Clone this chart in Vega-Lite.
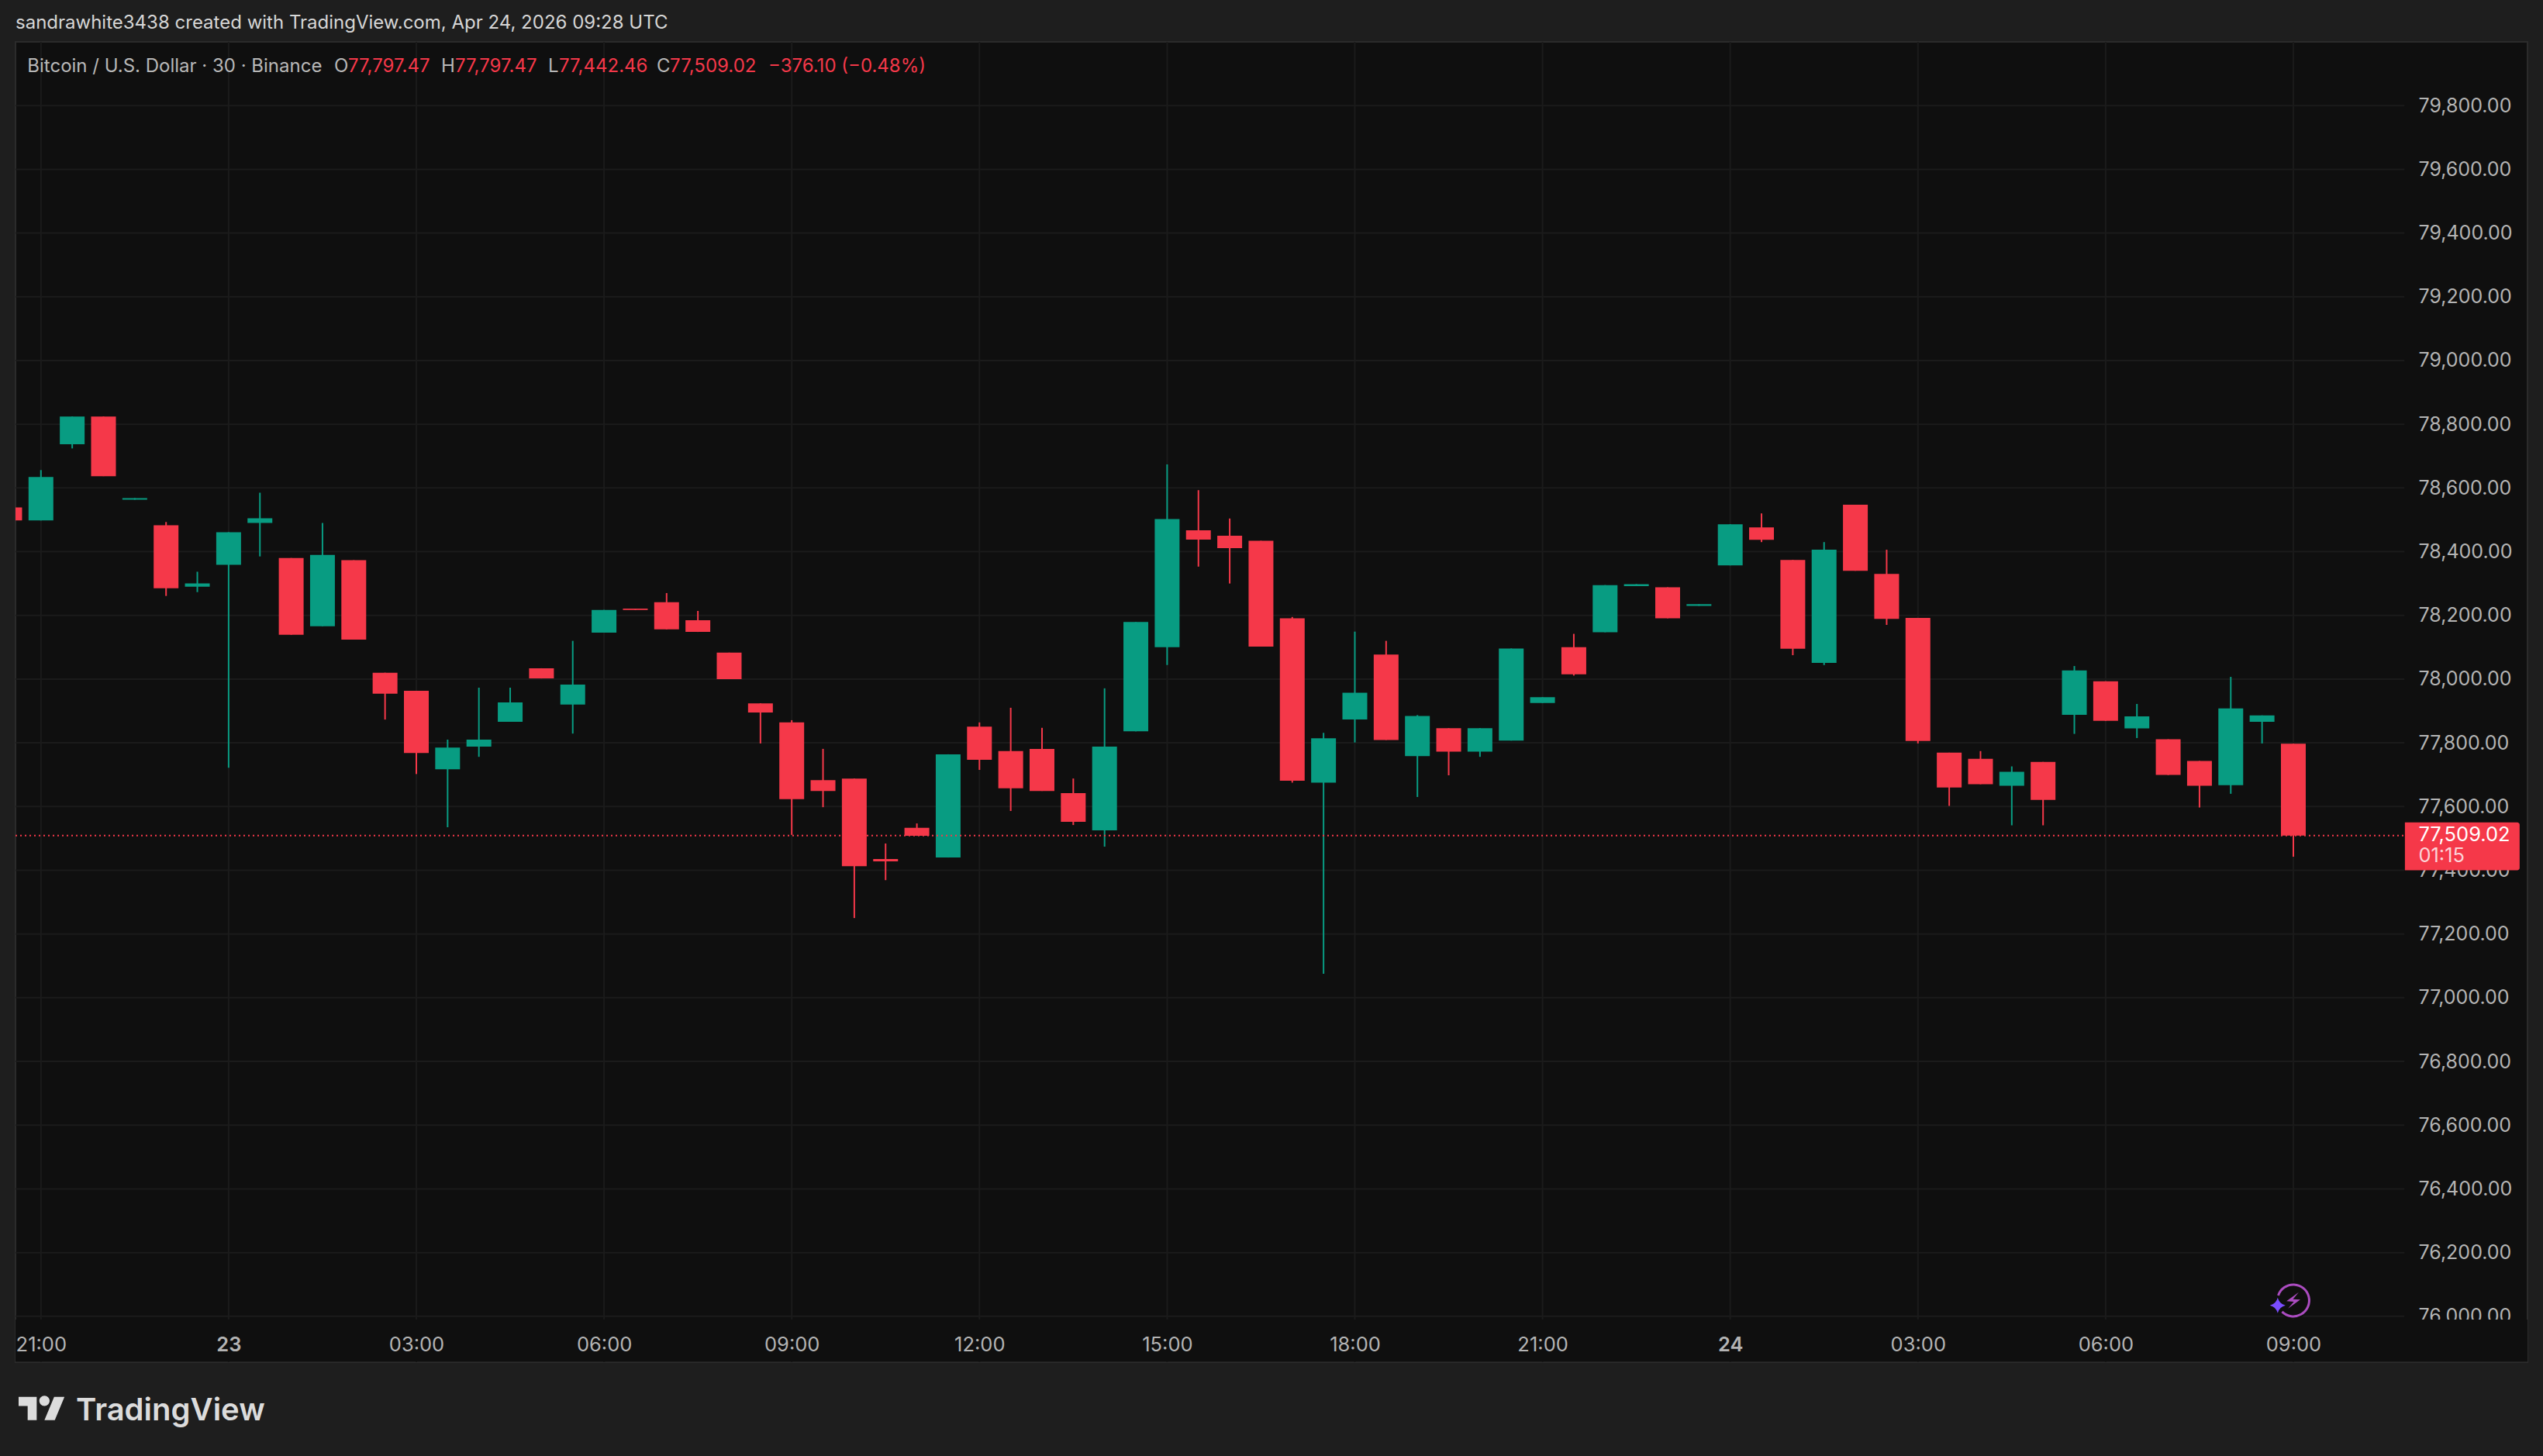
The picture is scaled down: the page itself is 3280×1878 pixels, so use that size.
{
  "$schema": "https://vega.github.io/schema/vega-lite/v6.json",
  "width": 3240,
  "height": 1703,
  "autosize": {"type": "none"},
  "padding": {"left": 20, "top": 54, "right": 20, "bottom": 121},
  "background": "#1e1e1e",
  "view": {"fill": "#0f0f0f", "stroke": "#2b2b2b", "strokeWidth": 2},
  "title": {
    "text": "sandrawhite3438 created with TradingView.com, Apr 24, 2026 09:28 UTC",
    "anchor": "start",
    "frame": "group",
    "offset": 14,
    "dy": 22,
    "baseline": "alphabetic",
    "font": "Inter",
    "fontSize": 24,
    "fontWeight": 400,
    "color": "#d6d6d6"
  },
  "datasets": {
    "candles": [
      {"t": "2026-04-22T20:30:00Z", "open": 78539, "high": 78539, "low": 78498, "close": 78498},
      {"t": "2026-04-22T21:00:00Z", "open": 78498, "high": 78656, "low": 78498, "close": 78634},
      {"t": "2026-04-22T21:30:00Z", "open": 78737, "high": 78824, "low": 78724, "close": 78824},
      {"t": "2026-04-22T22:00:00Z", "open": 78824, "high": 78824, "low": 78637, "close": 78637},
      {"t": "2026-04-22T22:30:00Z", "open": 78563, "high": 78568, "low": 78563, "close": 78568},
      {"t": "2026-04-22T23:00:00Z", "open": 78483, "high": 78493, "low": 78261, "close": 78285},
      {"t": "2026-04-22T23:30:00Z", "open": 78290, "high": 78337, "low": 78273, "close": 78300},
      {"t": "2026-04-23T00:00:00Z", "open": 78359, "high": 78461, "low": 77722, "close": 78461},
      {"t": "2026-04-23T00:30:00Z", "open": 78490, "high": 78585, "low": 78385, "close": 78505},
      {"t": "2026-04-23T01:00:00Z", "open": 78380, "high": 78380, "low": 78139, "close": 78139},
      {"t": "2026-04-23T01:30:00Z", "open": 78166, "high": 78490, "low": 78166, "close": 78390},
      {"t": "2026-04-23T02:00:00Z", "open": 78373, "high": 78373, "low": 78124, "close": 78124},
      {"t": "2026-04-23T02:30:00Z", "open": 78020, "high": 78020, "low": 77873, "close": 77954},
      {"t": "2026-04-23T03:00:00Z", "open": 77963, "high": 77963, "low": 77702, "close": 77768},
      {"t": "2026-04-23T03:30:00Z", "open": 77717, "high": 77810, "low": 77535, "close": 77785},
      {"t": "2026-04-23T04:00:00Z", "open": 77788, "high": 77973, "low": 77756, "close": 77810},
      {"t": "2026-04-23T04:30:00Z", "open": 77866, "high": 77973, "low": 77866, "close": 77927},
      {"t": "2026-04-23T05:00:00Z", "open": 78034, "high": 78034, "low": 78002, "close": 78002},
      {"t": "2026-04-23T05:30:00Z", "open": 77920, "high": 78120, "low": 77829, "close": 77983},
      {"t": "2026-04-23T06:00:00Z", "open": 78146, "high": 78217, "low": 78146, "close": 78217},
      {"t": "2026-04-23T06:30:00Z", "open": 78221, "high": 78221, "low": 78217, "close": 78217},
      {"t": "2026-04-23T07:00:00Z", "open": 78241, "high": 78270, "low": 78156, "close": 78156},
      {"t": "2026-04-23T07:30:00Z", "open": 78185, "high": 78214, "low": 78148, "close": 78148},
      {"t": "2026-04-23T08:00:00Z", "open": 78083, "high": 78083, "low": 78000, "close": 78000},
      {"t": "2026-04-23T08:30:00Z", "open": 77924, "high": 77924, "low": 77798, "close": 77895},
      {"t": "2026-04-23T09:00:00Z", "open": 77864, "high": 77871, "low": 77511, "close": 77623},
      {"t": "2026-04-23T09:30:00Z", "open": 77683, "high": 77781, "low": 77598, "close": 77649},
      {"t": "2026-04-23T10:00:00Z", "open": 77688, "high": 77688, "low": 77250, "close": 77413},
      {"t": "2026-04-23T10:30:00Z", "open": 77435, "high": 77484, "low": 77369, "close": 77428},
      {"t": "2026-04-23T11:00:00Z", "open": 77533, "high": 77547, "low": 77508, "close": 77508},
      {"t": "2026-04-23T11:30:00Z", "open": 77440, "high": 77764, "low": 77440, "close": 77764},
      {"t": "2026-04-23T12:00:00Z", "open": 77851, "high": 77864, "low": 77715, "close": 77747},
      {"t": "2026-04-23T12:30:00Z", "open": 77774, "high": 77910, "low": 77586, "close": 77657},
      {"t": "2026-04-23T13:00:00Z", "open": 77781, "high": 77847, "low": 77649, "close": 77649},
      {"t": "2026-04-23T13:30:00Z", "open": 77642, "high": 77688, "low": 77542, "close": 77552},
      {"t": "2026-04-23T14:00:00Z", "open": 77525, "high": 77971, "low": 77474, "close": 77788},
      {"t": "2026-04-23T14:30:00Z", "open": 77836, "high": 78179, "low": 77836, "close": 78179},
      {"t": "2026-04-23T15:00:00Z", "open": 78100, "high": 78674, "low": 78044, "close": 78502},
      {"t": "2026-04-23T15:30:00Z", "open": 78467, "high": 78593, "low": 78353, "close": 78438},
      {"t": "2026-04-23T16:00:00Z", "open": 78450, "high": 78504, "low": 78300, "close": 78411},
      {"t": "2026-04-23T16:30:00Z", "open": 78434, "high": 78434, "low": 78102, "close": 78102},
      {"t": "2026-04-23T17:00:00Z", "open": 78191, "high": 78195, "low": 77675, "close": 77681},
      {"t": "2026-04-23T17:30:00Z", "open": 77675, "high": 77831, "low": 77075, "close": 77814},
      {"t": "2026-04-23T18:00:00Z", "open": 77873, "high": 78149, "low": 77801, "close": 77957},
      {"t": "2026-04-23T18:30:00Z", "open": 78077, "high": 78120, "low": 77809, "close": 77809},
      {"t": "2026-04-23T19:00:00Z", "open": 77758, "high": 77887, "low": 77630, "close": 77884},
      {"t": "2026-04-23T19:30:00Z", "open": 77846, "high": 77846, "low": 77698, "close": 77772},
      {"t": "2026-04-23T20:00:00Z", "open": 77772, "high": 77846, "low": 77756, "close": 77846},
      {"t": "2026-04-23T20:30:00Z", "open": 77807, "high": 78096, "low": 77807, "close": 78096},
      {"t": "2026-04-23T21:00:00Z", "open": 77925, "high": 77943, "low": 77925, "close": 77943},
      {"t": "2026-04-23T21:30:00Z", "open": 78100, "high": 78142, "low": 78011, "close": 78015},
      {"t": "2026-04-23T22:00:00Z", "open": 78147, "high": 78295, "low": 78147, "close": 78295},
      {"t": "2026-04-23T22:30:00Z", "open": 78292, "high": 78298, "low": 78292, "close": 78298},
      {"t": "2026-04-23T23:00:00Z", "open": 78288, "high": 78288, "low": 78191, "close": 78191},
      {"t": "2026-04-23T23:30:00Z", "open": 78230, "high": 78235, "low": 78230, "close": 78235},
      {"t": "2026-04-24T00:00:00Z", "open": 78357, "high": 78486, "low": 78357, "close": 78486},
      {"t": "2026-04-24T00:30:00Z", "open": 78476, "high": 78520, "low": 78430, "close": 78437},
      {"t": "2026-04-24T01:00:00Z", "open": 78374, "high": 78374, "low": 78075, "close": 78095},
      {"t": "2026-04-24T01:30:00Z", "open": 78051, "high": 78430, "low": 78044, "close": 78406},
      {"t": "2026-04-24T02:00:00Z", "open": 78547, "high": 78547, "low": 78340, "close": 78340},
      {"t": "2026-04-24T02:30:00Z", "open": 78330, "high": 78406, "low": 78170, "close": 78189},
      {"t": "2026-04-24T03:00:00Z", "open": 78192, "high": 78192, "low": 77798, "close": 77806},
      {"t": "2026-04-24T03:30:00Z", "open": 77769, "high": 77769, "low": 77602, "close": 77660},
      {"t": "2026-04-24T04:00:00Z", "open": 77750, "high": 77774, "low": 77670, "close": 77670},
      {"t": "2026-04-24T04:30:00Z", "open": 77665, "high": 77726, "low": 77541, "close": 77709},
      {"t": "2026-04-24T05:00:00Z", "open": 77740, "high": 77740, "low": 77541, "close": 77621},
      {"t": "2026-04-24T05:30:00Z", "open": 77888, "high": 78041, "low": 77828, "close": 78027},
      {"t": "2026-04-24T06:00:00Z", "open": 77993, "high": 77993, "low": 77869, "close": 77869},
      {"t": "2026-04-24T06:30:00Z", "open": 77845, "high": 77922, "low": 77815, "close": 77883},
      {"t": "2026-04-24T07:00:00Z", "open": 77811, "high": 77811, "low": 77699, "close": 77699},
      {"t": "2026-04-24T07:30:00Z", "open": 77743, "high": 77743, "low": 77597, "close": 77665},
      {"t": "2026-04-24T08:00:00Z", "open": 77667, "high": 78007, "low": 77640, "close": 77908},
      {"t": "2026-04-24T08:30:00Z", "open": 77866, "high": 77886, "low": 77798, "close": 77886},
      {"t": "2026-04-24T09:00:00Z", "open": 77797.47, "high": 77797.47, "low": 77442.46, "close": 77509.02}
    ],
    "levels": [
      {"price": 76000}, {"price": 76200}, {"price": 76400}, {"price": 76600}, {"price": 76800},
      {"price": 77000}, {"price": 77200}, {"price": 77400}, {"price": 77600}, {"price": 77800},
      {"price": 78000}, {"price": 78200}, {"price": 78400}, {"price": 78600}, {"price": 78800},
      {"price": 79000}, {"price": 79200}, {"price": 79400}, {"price": 79600}, {"price": 79800}
    ],
    "hours": [
      {"t": "2026-04-22T21:00:00Z"}, {"t": "2026-04-23T00:00:00Z"}, {"t": "2026-04-23T03:00:00Z"},
      {"t": "2026-04-23T06:00:00Z"}, {"t": "2026-04-23T09:00:00Z"}, {"t": "2026-04-23T12:00:00Z"},
      {"t": "2026-04-23T15:00:00Z"}, {"t": "2026-04-23T18:00:00Z"}, {"t": "2026-04-23T21:00:00Z"},
      {"t": "2026-04-24T00:00:00Z"}, {"t": "2026-04-24T03:00:00Z"}, {"t": "2026-04-24T06:00:00Z"},
      {"t": "2026-04-24T09:00:00Z"}
    ],
    "header": [
      {"t": "2026-04-22T20:47:00Z", "price": 79905, "kind": "name", "label": "Bitcoin / U.S. Dollar · 30 · Binance"},
      {"t": "2026-04-23T01:41:12Z", "price": 79905, "kind": "name", "label": "O"},
      {"t": "2026-04-23T01:54:34Z", "price": 79905, "kind": "value", "label": "77,797.47"},
      {"t": "2026-04-23T03:23:47Z", "price": 79905, "kind": "name", "label": "H"},
      {"t": "2026-04-23T03:37:10Z", "price": 79905, "kind": "value", "label": "77,797.47"},
      {"t": "2026-04-23T05:06:24Z", "price": 79905, "kind": "name", "label": "L"},
      {"t": "2026-04-23T05:16:48Z", "price": 79905, "kind": "value", "label": "77,442.46"},
      {"t": "2026-04-23T06:50:30Z", "price": 79905, "kind": "name", "label": "C"},
      {"t": "2026-04-23T07:03:13Z", "price": 79905, "kind": "value", "label": "77,509.02"},
      {"t": "2026-04-23T08:37:36Z", "price": 79905, "kind": "value", "label": "−376.10 (−0.48%)"}
    ],
    "lastPrice": [{"price": 77509.02, "countdown": "01:15", "label": "77,509.02"}]
  },
  "layer": [
    {
      "data": {"name": "levels"},
      "mark": {"type": "rule", "color": "#1b1b1b", "strokeWidth": 2},
      "encoding": {
        "x": {
          "datum": {"year": 2026, "month": 4, "date": 22, "hours": 20, "minutes": 35, "seconds": 37, "utc": true},
          "type": "temporal",
          "scale": {"type": "utc", "domain": ["2026-04-22T20:35:37Z", "2026-04-24T12:44:33Z"], "padding": 0},
          "axis": {
            "title": null,
            "values": [1776891600000, 1776902400000, 1776913200000, 1776924000000, 1776934800000, 1776945600000, 1776956400000, 1776967200000, 1776978000000, 1776988800000, 1776999600000, 1777010400000, 1777021200000],
            "labelExpr": "utchours(datum.value) == 0 ? utcFormat(datum.value, '%-d') : utcFormat(datum.value, '%H:%M')",
            "labelFontWeight": {"condition": {"test": "utchours(datum.value) == 0", "value": 600}, "value": 400},
            "labelFont": "Inter",
            "labelFontSize": 25.5,
            "labelColor": "#b4b4b4",
            "labelPadding": 0,
            "labelOverlap": false,
            "labelFlush": false,
            "offset": -35,
            "ticks": false,
            "domain": false,
            "grid": false,
            "zindex": 1
          }
        },
        "x2": {"datum": {"year": 2026, "month": 4, "date": 24, "hours": 10, "minutes": 46, "seconds": 30, "utc": true}},
        "y": {
          "field": "price",
          "type": "quantitative",
          "scale": {"domain": [75856, 80000], "nice": false, "zero": false},
          "axis": {
            "title": null,
            "orient": "right",
            "values": [76000, 76200, 76400, 76600, 76800, 77000, 77200, 77400, 77600, 77800, 78000, 78200, 78400, 78600, 78800, 79000, 79200, 79400, 79600, 79800],
            "format": ",.2f",
            "labelFont": "Inter",
            "labelFontSize": 25,
            "labelColor": "#b4b4b4",
            "labelPadding": 0,
            "labelOverlap": false,
            "labelFlush": false,
            "offset": -141,
            "ticks": false,
            "domain": false,
            "grid": false,
            "zindex": 0
          }
        }
      }
    },
    {
      "data": {"name": "hours"},
      "mark": {"type": "rule", "color": "#1b1b1b", "strokeWidth": 2},
      "encoding": {
        "x": {"field": "t", "type": "temporal"}
      }
    },
    {
      "data": {"values": [{"strip": "axis"}]},
      "mark": {"type": "rect", "color": "#0f0f0f"},
      "encoding": {
        "y": {"datum": 75990, "type": "quantitative"},
        "y2": {"datum": 75858}
      }
    },
    {
      "data": {"name": "candles"},
      "mark": {"type": "rule", "strokeWidth": 2, "clip": true},
      "encoding": {
        "x": {"field": "t", "type": "temporal"},
        "y": {"field": "low", "type": "quantitative"},
        "y2": {"field": "high"},
        "color": {"condition": {"test": "datum.close >= datum.open", "value": "#089c82"}, "value": "#f53849"}
      }
    },
    {
      "data": {"name": "candles"},
      "mark": {"type": "bar", "size": 32, "orient": "vertical", "clip": true},
      "encoding": {
        "x": {"field": "t", "type": "temporal"},
        "y": {"field": "open", "type": "quantitative"},
        "y2": {"field": "close"},
        "color": {"condition": {"test": "datum.close >= datum.open", "value": "#089c82"}, "value": "#f53849"}
      }
    },
    {
      "data": {"name": "lastPrice"},
      "mark": {"type": "rule", "color": "#f53849", "strokeWidth": 2, "strokeDash": [2, 4]},
      "encoding": {
        "x": {"datum": {"year": 2026, "month": 4, "date": 22, "hours": 20, "minutes": 35, "seconds": 37, "utc": true}, "type": "temporal"},
        "x2": {"datum": {"year": 2026, "month": 4, "date": 24, "hours": 10, "minutes": 46, "seconds": 30, "utc": true}},
        "y": {"field": "price", "type": "quantitative"}
      }
    },
    {
      "data": {"name": "lastPrice"},
      "mark": {"type": "rect", "color": "#f53849", "cornerRadiusTopRight": 3, "cornerRadiusBottomRight": 3},
      "encoding": {
        "x": {"datum": {"year": 2026, "month": 4, "date": 24, "hours": 10, "minutes": 47, "utc": true}, "type": "temporal"},
        "x2": {"datum": {"year": 2026, "month": 4, "date": 24, "hours": 12, "minutes": 37, "utc": true}},
        "y": {"datum": 77400, "type": "quantitative"},
        "y2": {"datum": 77550}
      }
    },
    {
      "data": {"name": "lastPrice"},
      "mark": {"type": "text", "font": "Inter", "fontSize": 25.5, "align": "left", "baseline": "alphabetic", "color": "#ffffff"},
      "encoding": {
        "x": {"datum": {"year": 2026, "month": 4, "date": 24, "hours": 11, "utc": true}, "type": "temporal"},
        "y": {"datum": 77491, "type": "quantitative"},
        "text": {"field": "label"}
      }
    },
    {
      "data": {"name": "lastPrice"},
      "mark": {"type": "text", "font": "Inter", "fontSize": 25.5, "align": "left", "baseline": "alphabetic", "color": "#fbd3d7"},
      "encoding": {
        "x": {"datum": {"year": 2026, "month": 4, "date": 24, "hours": 11, "utc": true}, "type": "temporal"},
        "y": {"datum": 77425, "type": "quantitative"},
        "text": {"field": "countdown"}
      }
    },
    {
      "data": {"name": "header"},
      "mark": {"type": "text", "font": "Inter", "fontSize": 24, "align": "left", "baseline": "alphabetic"},
      "encoding": {
        "x": {"field": "t", "type": "temporal"},
        "y": {"field": "price", "type": "quantitative"},
        "text": {"field": "label"},
        "color": {"field": "kind", "type": "nominal", "legend": null, "scale": {"domain": ["name", "value"], "range": ["#b8b8b8", "#f53849"]}}
      }
    },
    {
      "data": {"values": [{"t": "2026-04-24T09:00:00Z", "price": 76050}]},
      "mark": {"type": "point", "shape": "circle", "filled": true, "size": 2300, "color": "#0f0f0f", "opacity": 1},
      "encoding": {
        "x": {"field": "t", "type": "temporal"},
        "y": {"field": "price", "type": "quantitative"}
      }
    },
    {
      "data": {"values": [{"t": "2026-04-24T09:00:00Z", "price": 76050}]},
      "mark": {"type": "point", "shape": "M-0.95 -0.31A1 1 0 1 1 -0.71 0.71", "filled": false, "size": 1680, "color": "#ab4cc0", "strokeWidth": 3, "opacity": 1},
      "encoding": {
        "x": {"field": "t", "type": "temporal"},
        "y": {"field": "price", "type": "quantitative"}
      }
    },
    {
      "data": {"values": [{"t": "2026-04-24T09:00:00Z", "price": 76050}]},
      "mark": {"type": "point", "shape": "M0.34 -0.51L-0.43 0.05L0.03 0.08L-0.33 0.51L0.44 -0.05L-0.02 -0.08Z", "filled": true, "size": 1680, "color": "#ab4cc0", "opacity": 1},
      "encoding": {
        "x": {"field": "t", "type": "temporal"},
        "y": {"field": "price", "type": "quantitative"}
      }
    },
    {
      "data": {"values": [{"t": "2026-04-24T08:45:00Z", "price": 76034}]},
      "mark": {"type": "point", "shape": "M0 -1Q0.2 -0.2 1 0Q0.2 0.2 0 1Q-0.2 0.2 -1 0Q-0.2 -0.2 0 -1Z", "filled": true, "size": 400, "color": "#7a4dff", "opacity": 1},
      "encoding": {
        "x": {"field": "t", "type": "temporal"},
        "y": {"field": "price", "type": "quantitative"}
      }
    },
    {
      "data": {"values": [{"t": "2026-04-22T21:00:54Z", "price": 75710.5}]},
      "mark": {"type": "point", "shape": "M-0.222 0.5H-0.611V-0.111H-1V-0.5H-0.222ZM0.556 0.5H0.111L0.528 -0.5H0.972ZM-0.111 -0.333A0.222 0.222 0 1 0 0.333 -0.333A0.222 0.222 0 1 0 -0.111 -0.333Z", "filled": true, "size": 3600, "color": "#dcdcdc", "opacity": 1},
      "encoding": {
        "x": {"field": "t", "type": "temporal"},
        "y": {"field": "price", "type": "quantitative"}
      }
    },
    {
      "data": {"values": [{"t": "2026-04-22T21:33:36Z", "price": 75673.7, "label": "TradingView"}]},
      "mark": {"type": "text", "font": "Inter", "fontSize": 40, "fontWeight": 600, "align": "left", "baseline": "alphabetic", "color": "#dcdcdc"},
      "encoding": {
        "x": {"field": "t", "type": "temporal"},
        "y": {"field": "price", "type": "quantitative"},
        "text": {"field": "label"}
      }
    }
  ]
}
